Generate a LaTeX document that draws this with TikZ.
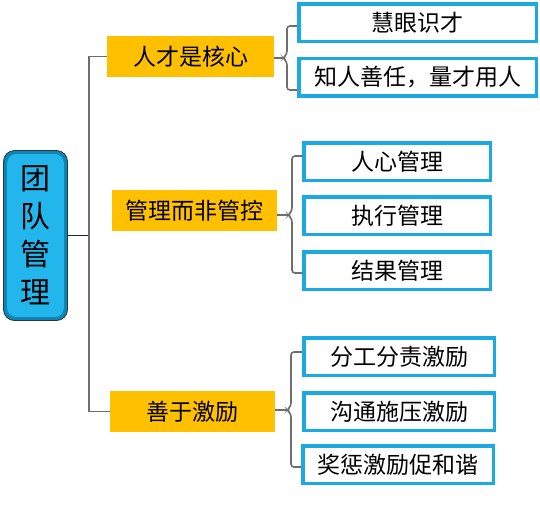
\documentclass[tikz,border=0pt]{standalone}
\usepackage{fontspec}
\usetikzlibrary{calc}
\setmainfont{Noto Sans CJK SC}
\definecolor{rootblue}{HTML}{22B6EC}
\definecolor{rootedge}{HTML}{0B86B8}
\definecolor{boxblue}{HTML}{1BA9E1}
\definecolor{gold}{HTML}{FFC000}
\definecolor{linegray}{HTML}{6E6E6E}
\begin{document}
\begin{tikzpicture}[x=1pt,y=-1pt,
  topic/.style={fill=gold, inner sep=0pt, minimum height=41pt, font=\fontsize{23}{28}\selectfont},
  leaf/.style={draw=boxblue, line width=3.5pt, fill=white, inner sep=0pt, minimum height=37.5pt, font=\fontsize{23}{28}\selectfont},
  rootbox/.style={draw=black!80, line width=0.8pt, rounded corners=11pt, fill=rootedge, minimum width=64pt, minimum height=170pt, inner sep=0pt},
  conn/.style={draw=linegray, line width=1.6pt},
  brace/.style={conn, rounded corners=3pt}]
\useasboundingbox (0,0) rectangle (540,528);
% root
\node[rootbox] (r) at (35.5,235.5) {};
\fill[rootblue, rounded corners=9pt] ($(r.north west)+(4,4)$) rectangle ($(r.south east)+(-4,-4)$);
\node[align=center, font=\fontsize{30}{38}\selectfont, inner sep=0pt] (rt) at (r.center) {团\\队\\管\\理};
% topics
\node[topic, minimum width=167pt] (t1) at (190.5,56.5) {人才是核心};
\node[topic, minimum width=165pt] (t2) at (194.5,210.5) {管理而非管控};
\node[topic, minimum width=165pt] (t3) at (192.5,411.5) {善于激励};
% leaves
\node[leaf, minimum width=237.5pt] (c1) at (417.5,22.5) {慧眼识才};
\node[leaf, minimum width=237.5pt] (c2) at (417.5,77) {知人善任，量才用人};
\node[leaf, minimum width=186.5pt] (c3) at (397,161.5) {人心管理};
\node[leaf, minimum width=186.5pt] (c4) at (397,215.5) {执行管理};
\node[leaf, minimum width=186.5pt] (c5) at (397,270.5) {结果管理};
\node[leaf, minimum width=190.5pt] (c6) at (399,356.5) {分工分责激励};
\node[leaf, minimum width=190.5pt] (c7) at (399,411.5) {沟通施压激励};
\node[leaf, minimum width=190.5pt] (c8) at (398,464.5) {奖惩激励促和谐};
% main connectors
\draw[conn, draw=black!85] (r.east) -- ++(21,0);
\draw[conn] (t1.west) -- ++(-18,0) |- (t3.west);
% right braces
\draw[conn] (t1.east |- 0,58) -- (283,58);
\draw[brace] (c1.west |- 0,26) -- (287,26) -- (287,54) -- (283,58) -- (287,62) -- (287,90) -- (c2.west |- 0,90);
\draw[conn] (t2.east |- 0,215) -- (288,215);
\draw[brace] (c3.west |- 0,156) -- (292,156) -- (292,211) -- (288,215) -- (292,219) -- (292,273) -- (c5.west |- 0,273);
\draw[conn] (t3.east |- 0,410) -- (287,410);
\draw[brace] (c6.west |- 0,352) -- (291,352) -- (291,406) -- (287,410) -- (291,414) -- (291,467) -- (c8.west |- 0,467);
\end{tikzpicture}
\end{document}
